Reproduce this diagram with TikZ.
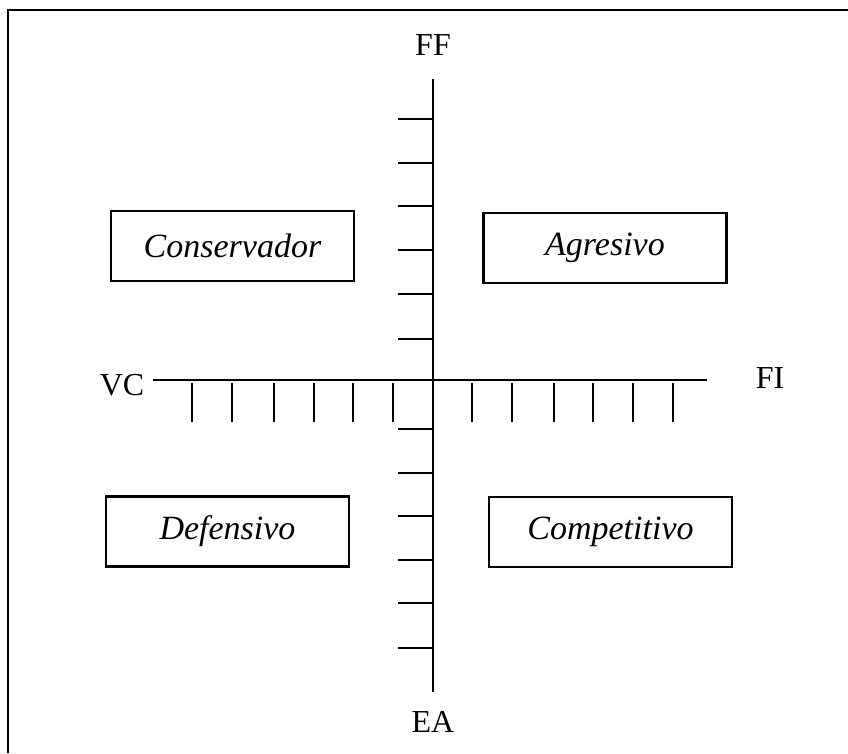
\documentclass[tikz,border=0pt]{standalone}
\usepackage{fontspec}
\setmainfont{Liberation Serif}
\begin{document}
\begin{tikzpicture}[x=1pt,y=-1pt,
  quadrant/.style={draw,line width=2.2pt,minimum width=243pt,minimum height=70pt,
    font=\fontsize{34}{40}\selectfont\itshape,inner sep=0pt},
  axislabel/.style={font=\fontsize{32}{38}\selectfont,inner sep=0pt},
  axisline/.style={line width=1.4pt},
  tickline/.style={line width=1.4pt}]
\useasboundingbox (0,0) rectangle (848,753);
% frame (top and left edges)
\draw[line width=2.5pt] (848,10) -- (8,10) -- (8,753);

% axis end points
\coordinate (top) at (433,79);
\coordinate (bottom) at (433,692);
\coordinate (left) at (153,380);
\coordinate (right) at (707,380);

% axes
\draw[axisline] (top) -- (bottom);
\draw[axisline] (left) -- (right);

% ticks on the vertical axis
\foreach \y in {119,163,206,250,294,339,429,473,516,560,603,648}
  \draw[tickline] (398,\y) -- (433,\y);
% ticks on the horizontal axis
\foreach \x in {192,232,274,314,353,393,472,512,554,593,633,673}
  \draw[tickline] (\x,383) -- (\x,422);

% axis labels
\node[axislabel] (ff) at (433,45) {FF};
\node[axislabel] (ea) at (433,722) {EA};
\node[axislabel] (vc) at (122,385) {VC};
\node[axislabel] (fi) at (770,378) {FI};

% quadrant boxes
\node[quadrant] (conservador) at (232.5,246) {Conservador};
\node[quadrant] (agresivo) at (605,248) {Agresivo};
\node[quadrant] (defensivo) at (227.5,531.5) {Defensivo};
\node[quadrant] (competitivo) at (610.5,532) {Competitivo};
\end{tikzpicture}
\end{document}
